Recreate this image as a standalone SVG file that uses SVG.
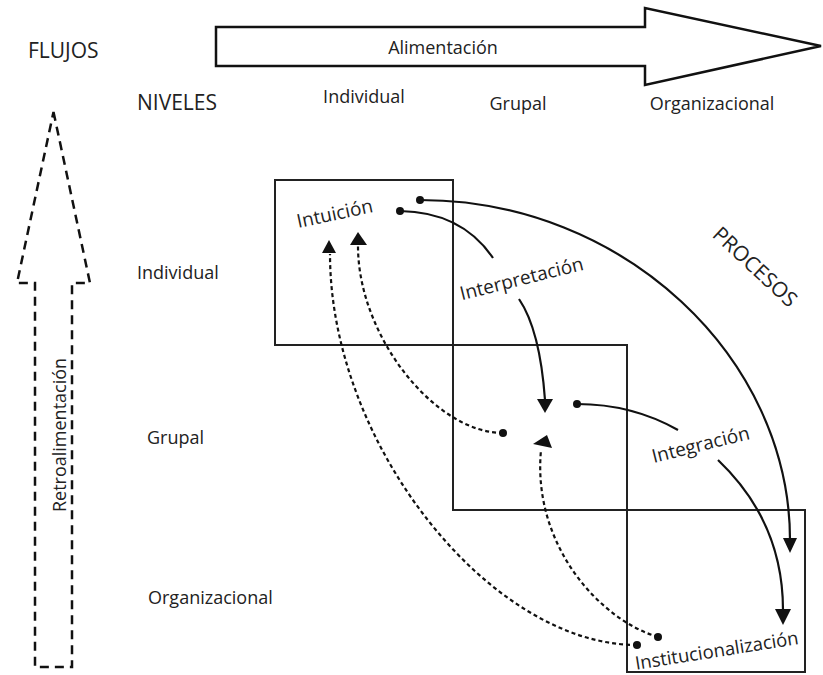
<svg xmlns="http://www.w3.org/2000/svg" width="823" height="675" viewBox="0 0 823 675">
  <style>
    .t { font-family: "Open Sans", "Liberation Sans", sans-serif; fill: #222; }
    .box { fill: none; stroke: #222; stroke-width: 2; }
    .solid { fill: none; stroke: #111; stroke-width: 2.2; }
    .dash { fill: none; stroke: #111; stroke-width: 2.2; stroke-dasharray: 4 3; }
    .head { fill: #111; }
  </style>
  <rect width="823" height="675" fill="#fff"/>

  <!-- flow arrows -->
  <g id="alimentacion">
    <polygon points="216,27 645,27 645,8 821,46 645,85 645,66 216,66" fill="none" stroke="#111" stroke-width="2.5"/>
    <text class="t" x="443" y="54" font-size="18" text-anchor="middle">Alimentación</text>
  </g>
  <g id="retroalimentacion">
    <polygon points="53.5,112 90,283 72,283 72,667 35,667 35,283 17,283" fill="none" stroke="#111" stroke-width="2.5" stroke-dasharray="9 6"/>
    <text class="t" transform="translate(66,435) rotate(-90)" font-size="18" text-anchor="middle">Retroalimentación</text>
  </g>

  <!-- headings -->
  <g id="labels">
    <text class="t" x="28" y="58" font-size="21">FLUJOS</text>
    <text class="t" x="137" y="110" font-size="21">NIVELES</text>
    <text class="t" x="364" y="103" font-size="18" text-anchor="middle">Individual</text>
    <text class="t" x="518" y="110" font-size="18" text-anchor="middle">Grupal</text>
    <text class="t" x="712" y="110" font-size="18" text-anchor="middle">Organizacional</text>
    <text class="t" x="137" y="279" font-size="18">Individual</text>
    <text class="t" x="147" y="444" font-size="18">Grupal</text>
    <text class="t" x="148" y="604" font-size="18">Organizacional</text>
    <text class="t" transform="translate(754,268) rotate(43)" font-size="21" text-anchor="middle" dominant-baseline="middle">PROCESOS</text>
  </g>

  <!-- level boxes -->
  <g id="box-individual"><rect class="box" x="275" y="180" width="178" height="165"/></g>
  <g id="box-grupal"><rect class="box" x="453" y="345" width="174" height="165"/></g>
  <g id="box-organizacional"><rect class="box" x="627" y="510" width="178" height="162"/></g>

  <!-- process labels -->
  <g id="intuicion">
    <text class="t" transform="translate(335,215) rotate(-12)" font-size="19" text-anchor="middle" dominant-baseline="middle">Intuición</text>
  </g>
  <g id="interpretacion">
    <text class="t" transform="translate(522,280) rotate(-14)" font-size="19" text-anchor="middle" dominant-baseline="middle">Interpretación</text>
  </g>
  <g id="integracion">
    <text class="t" transform="translate(701,446) rotate(-14)" font-size="19" text-anchor="middle" dominant-baseline="middle">Integración</text>
  </g>
  <g id="institucionalizacion">
    <text class="t" transform="translate(717,652) rotate(-9)" font-size="18.5" text-anchor="middle" dominant-baseline="middle">Institucionalización</text>
  </g>

  <!-- connectors -->
  <g id="connectors">
    <!-- feed-forward (solid) -->
    <circle class="head" cx="420" cy="200" r="4"/>
    <path class="solid" d="M420,200 C624,200 790,358 790,540"/>
    <polygon class="head" points="783,538 797,538 790,553"/>

    <circle class="head" cx="400" cy="211" r="4"/>
    <path class="solid" d="M400,211 Q462,212 493,258"/>

    <path class="solid" d="M519,299 Q540,330 545,400"/>
    <polygon class="head" points="537,399 553,399 545,413"/>

    <circle class="head" cx="577" cy="404" r="4"/>
    <path class="solid" d="M577,404 Q632,404 678,430"/>

    <path class="solid" d="M718,460 C760,500 783,550 783,610"/>
    <polygon class="head" points="775,609 791,609 783,625"/>

    <!-- feedback (dashed) -->
    <circle class="head" cx="637" cy="645" r="4"/>
    <path class="dash" d="M637,645 C490,645 330,444 330,254"/>
    <polygon class="head" points="322,253 336,253 329,240"/>

    <circle class="head" cx="503" cy="433" r="4"/>
    <path class="dash" d="M503,433 C435,433 358,336 358,246"/>
    <polygon class="head" points="350,245 367,245 358,232"/>

    <circle class="head" cx="658" cy="637" r="4"/>
    <path class="dash" d="M658,637 C600,620 532,545 541,450"/>
    <polygon class="head" points="533,444 552,448 547,435"/>
  </g>
</svg>
